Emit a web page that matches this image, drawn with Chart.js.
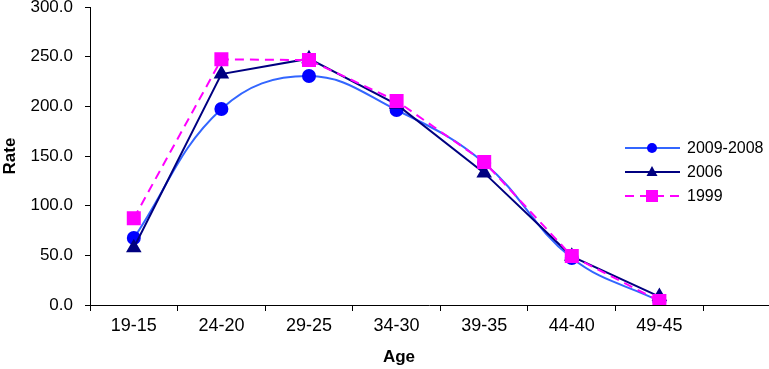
<!DOCTYPE html>
<html>
<head>
<meta charset="utf-8">
<script src="https://cdn.jsdelivr.net/npm/chart.js@4/dist/chart.umd.min.js"></script>
<style>
  body { margin: 0; background: #fff; }
  #wrap { width: 769px; height: 369px; position: relative; }
</style>
</head>
<body>
<div id="wrap"><canvas id="chart_instance"></canvas></div>
<script>
// age groups as printed under the axis (plus one empty slot on the right)
var ageGroups = ["19-15", "24-20", "29-25", "34-30", "39-35", "44-40", "49-45"];
var seriesNames = ["2009-2008", "2006", "1999"];
var rate0908 = [67.4, 197.3, 230.5, 196.3, 143.0, 47.3, 4.0];
var rate2006 = [57.7, 232.5, 248.0, 202.0, 133.0, 49.0, 8.5];
var rate1999 = [87.3, 247.3, 246.6, 205.4, 144.0, 49.3, 4.0];
var rateTicks = [0, 50, 100, 150, 200, 250, 300];

var fontName = "'Liberation Sans', Arial, sans-serif";

function toPoints(arr) {
    return arr.map(function (v, i) { return { x: i, y: v }; });
}

// legend in the style of the old spreadsheet: line with marker in the middle
// also the "Age" title, which sits centred under the labelled part of the axis
var sideLegend = {
    id: 'sideLegend',
    afterDraw: function (chart) {
        var ctx = chart.ctx;
        var rows = [
            { name: seriesNames[0], line: '#3366FF', fill: '#0000FF', shape: 'circle', dash: [] },
            { name: seriesNames[1], line: '#000080', fill: '#000080', shape: 'triangle', dash: [] },
            { name: seriesNames[2], line: '#FF00FF', fill: '#FF00FF', shape: 'rect', dash: [9, 6] }
        ];
        ctx.save();
        rows.forEach(function (r, i) {
            var y = 148 + i * 24;
            ctx.strokeStyle = r.line;
            ctx.lineWidth = 2;
            ctx.setLineDash(r.dash);
            ctx.beginPath();
            ctx.moveTo(625, y);
            ctx.lineTo(680, y);
            ctx.stroke();
            ctx.setLineDash([]);
            ctx.fillStyle = r.fill;
            ctx.beginPath();
            if (r.shape === 'circle') {
                ctx.arc(652, y, 5, 0, Math.PI * 2);
            } else if (r.shape === 'triangle') {
                ctx.moveTo(652, y - 6);
                ctx.lineTo(657.5, y + 4);
                ctx.lineTo(646.5, y + 4);
                ctx.closePath();
            } else {
                ctx.rect(646, y - 6, 12, 12);
            }
            ctx.fill();
            ctx.fillStyle = '#000';
            ctx.font = '16px ' + fontName;
            ctx.textBaseline = 'middle';
            ctx.textAlign = 'left';
            ctx.fillText(r.name, 687, y + 1);
        });
        ctx.font = 'bold 17px ' + fontName;
        ctx.textAlign = 'center';
        ctx.textBaseline = 'middle';
        ctx.fillText('Age', 399, 357);
        ctx.restore();
    }
};

var canvas = document.getElementById("chart_instance").getContext('2d');
var chart_instance = new Chart(canvas, {
    type: 'line',
    data: {
        datasets: [
            {
                label: seriesNames[0],
                data: toPoints(rate0908),
                borderColor: '#3366FF',
                borderWidth: 2,
                backgroundColor: '#0000FF',
                pointBackgroundColor: '#0000FF',
                pointBorderColor: '#0000FF',
                pointStyle: 'circle',
                pointRadius: 6,
                tension: 0.4,
                order: 2
            },
            {
                label: seriesNames[1],
                data: toPoints(rate2006),
                borderColor: '#000080',
                borderWidth: 2,
                backgroundColor: '#000080',
                pointBackgroundColor: '#000080',
                pointBorderColor: '#000080',
                pointStyle: 'triangle',
                pointRadius: 7,
                tension: 0,
                order: 1
            },
            {
                label: seriesNames[2],
                data: toPoints(rate1999),
                borderColor: '#FF00FF',
                borderWidth: 2,
                borderDash: [9, 6],
                backgroundColor: '#FF00FF',
                pointBackgroundColor: '#FF00FF',
                pointBorderColor: '#FF00FF',
                pointStyle: 'rect',
                pointRadius: 8.5,
                tension: 0,
                order: 0
            }
        ]
    },
    options: {
        responsive: true,
        maintainAspectRatio: false,
        animation: false,
        layout: { autoPadding: false, padding: { top: 7, right: 1, left: 0, bottom: 0 } },
        plugins: {
            legend: { display: false },
            tooltip: { enabled: false }
        },
        scales: {
            x: {
                type: 'linear',
                min: -0.5,
                max: 7.24,
                afterBuildTicks: function (scale) {
                    var t = [];
                    for (var i = 0; i <= ageGroups.length; i++) t.push({ value: i - 0.5 });
                    scale.ticks = t;
                },
                afterFit: function (scale) {
                    scale.height = 64;
                    scale.paddingLeft = 0;
                    scale.paddingRight = 0;
                },
                ticks: {
                    autoSkip: false,
                    maxRotation: 0,
                    labelOffset: 43.8,
                    padding: 4,
                    color: '#000',
                    font: { family: fontName, size: 18 },
                    callback: function (v, i) { return ageGroups[i] || ''; }
                },
                grid: { drawOnChartArea: false, tickLength: 6, color: '#000' },
                border: { color: '#000', width: 1 },
                title: { display: false }
            },
            y: {
                min: 0,
                max: 300,
                afterBuildTicks: function (scale) {
                    scale.ticks = rateTicks.map(function (v) { return { value: v }; });
                },
                afterFit: function (scale) {
                    scale.width = 90;
                    scale.paddingTop = 0;
                    scale.paddingBottom = 0;
                },
                ticks: {
                    padding: 12,
                    color: '#000',
                    font: { family: fontName, size: 17 },
                    callback: function (v) { return v.toFixed(1); }
                },
                grid: { drawOnChartArea: false, tickLength: 5, color: '#000' },
                border: { color: '#000', width: 1 },
                title: {
                    display: true,
                    text: 'Rate',
                    color: '#000',
                    font: { family: fontName, size: 17, weight: 'bold' },
                    padding: { top: 0, bottom: 0 }
                }
            }
        }
    },
    plugins: [sideLegend]
});
</script>
</body>
</html>
